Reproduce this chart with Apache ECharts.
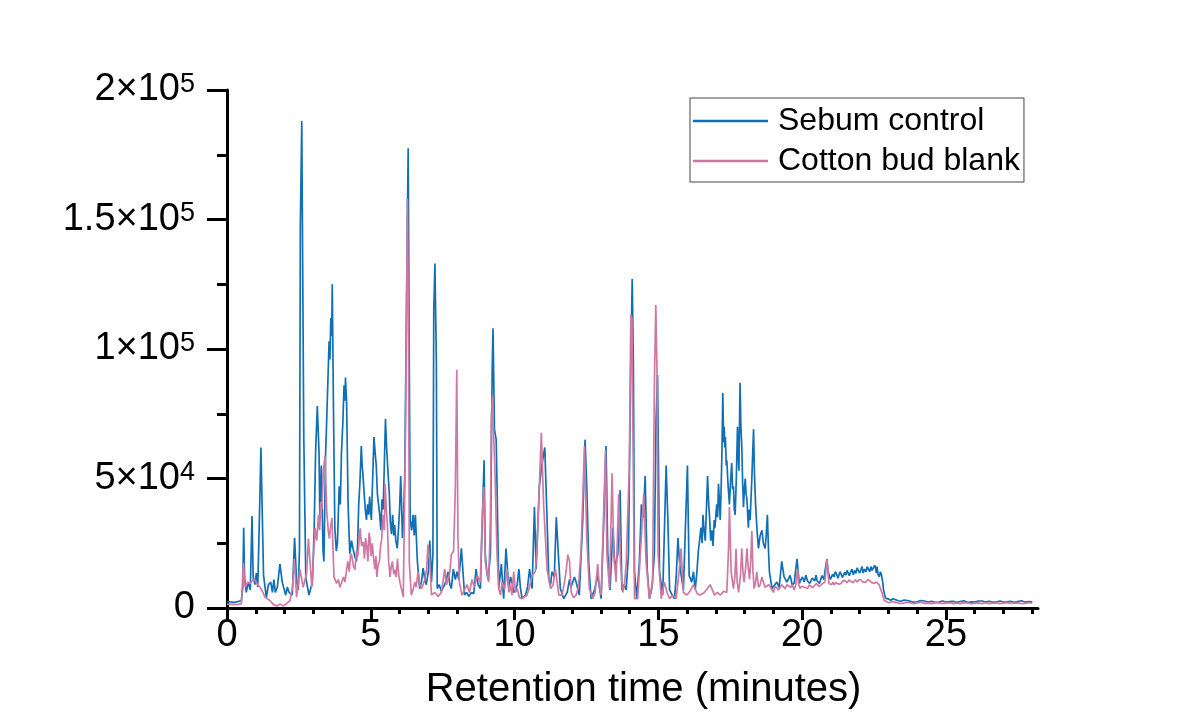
<!DOCTYPE html>
<html>
<head>
    <meta charset="utf-8">
    <title>Chromatogram</title>
    <script src="https://cdn.jsdelivr.net/npm/echarts@6/dist/echarts.min.js"></script>
    <style>
        body { margin: 0; background: #fff; }
    </style>
</head>
<body>
    <div id="main" style="width: 1198px;height:720px;"></div>
    <script type="text/javascript">
        // retention time (min), intensity (x1000 counts)
        var sebumControl = [
            [0,2.5],[0.25,2.2],[0.5,2.8],[0.55,8],[0.58,31],[0.61,12],[0.67,6],[0.74,10],[0.81,7],[0.87,35.5],
            [0.91,12],[0.97,9],[1.02,13.5],[1.07,8],[1.14,41],[1.18,62],[1.22,40],[1.27,12.7],[1.37,4],[1.44,9],
            [1.52,10],[1.58,6],[1.63,11],[1.68,6],[1.75,8],[1.84,17],[1.92,10],[2.04,5],[2.1,8],[2.16,6],
            [2.27,5],[2.35,27],[2.42,10],[2.48,7],[2.52,23],[2.55,147],[2.60,188],[2.63,134],[2.67,66],[2.74,11.6],
            [2.85,5],[2.97,10],[3.03,30],[3.08,60],[3.14,78],[3.2,60],[3.23,34],[3.28,55],[3.34,22],[3.37,18],[3.43,60],
            [3.46,70],[3.49,81],[3.52,92],[3.55,103],[3.58,96],[3.61,112],[3.64,105],[3.66,125],[3.70,79],[3.75,31],[3.8,22],
            [3.84,25],[3.9,47],[3.94,40],[3.98,60],[4.03,72],[4.07,86],[4.1,80],[4.12,89],[4.16,79],[4.21,40],[4.27,21],
            [4.33,26],[4.38,23],[4.44,20],[4.5,18],[4.54,24],[4.58,40],[4.62,48],[4.67,62.5],[4.7,55],[4.73,51],[4.77,44],
            [4.81,38],[4.85,34],[4.89,40],[4.93,36],[4.96,43],[4.99,38],[5.02,34],[5.06,48],[5.11,66],[5.15,60],[5.19,55],
            [5.23,44],[5.27,40],[5.31,36],[5.35,30],[5.39,42],[5.43,38],[5.47,55],[5.51,73],[5.55,62],[5.6,52],[5.64,45],
            [5.68,33],[5.72,28.5],[5.76,36],[5.8,28],[5.83,32],[5.87,26],[5.92,23],[5.96,30],[6.0,38],[6.04,51],[6.07,40],
            [6.1,27],[6.14,35],[6.18,51],[6.24,115],[6.30,177.5],[6.33,112],[6.37,34],[6.42,30],[6.47,36],[6.51,28],[6.55,36],
            [6.62,18],[6.7,7.5],[6.76,10],[6.82,15.4],[6.88,11],[6.93,9],[7.0,14],[7.05,26],[7.11,10],[7.16,21],[7.19,115],[7.23,133],[7.28,95],
            [7.31,7.5],[7.38,9],[7.45,6.5],[7.52,8],[7.57,9],[7.63,11],[7.69,14],[7.75,9],[7.8,7.5],[7.87,15],[7.94,11],[8.0,14],[8.06,11],[8.15,23],[8.26,5],
            [8.33,6],[8.41,4.5],[8.5,6],[8.58,5.5],[8.66,15],[8.73,9],[8.81,7.5],[8.9,42],[8.94,57],[8.98,21],[9.03,14],[9.08,11],[9.16,21],[9.22,91],
            [9.25,108],[9.3,69],[9.36,65],[9.39,47],[9.45,7.5],[9.54,17],[9.62,3.6],[9.7,23],[9.8,7.5],[9.86,12],[9.91,10],
            [9.97,6],[10.03,7],[10.09,9],[10.15,15],[10.2,8],[10.26,3.6],[10.38,5],[10.45,8],[10.52,15],[10.61,7.5],[10.69,39],[10.75,15],[10.86,47],[10.96,56],
            [11.05,62],[11.13,34],[11.19,11],[11.25,9],[11.3,14],[11.38,12],[11.45,35],[11.51,23],[11.59,7.5],[11.71,3.6],[11.83,6],[11.91,11],
            [11.96,8],[12.02,7.5],[12.08,12],[12.14,10],[12.25,5],[12.37,34],[12.45,65],[12.51,47],[12.58,17],[12.66,3.6],[12.78,7],[12.89,12.6],
            [12.95,8],[13.01,3.6],[13.14,47],[13.18,62.5],[13.24,21],[13.32,7],[13.42,31],[13.49,15],[13.59,21],[13.67,45.5],[13.73,7],
            [13.8,9],[13.88,7],[13.96,21],[14.03,86],[14.09,127],[14.13,95],[14.17,14],[14.25,3.6],[14.34,18],[14.41,40],[14.48,35],
            [14.54,51],[14.61,15],[14.69,3.6],[14.78,8],[14.86,21],[14.92,73],[14.97,90],[15.0,60],[15.04,14],[15.15,5],[15.27,55],
            [15.33,34],[15.39,7],[15.48,5],[15.56,3.6],[15.62,12],[15.68,27],[15.72,20],[15.76,15],[15.87,7],[16.01,55],[16.07,12.6],[16.16,10],
            [16.22,14],[16.28,7],[16.34,14],[16.39,22],[16.44,27],[16.48,31],[16.52,25],[16.55,36],[16.59,30],[16.63,26],[16.67,38],[16.71,51],[16.75,40],
            [16.78,35],[16.82,26],[16.86,30],[16.9,24],[16.94,34],[16.97,31],[17.0,36],[17.03,40],[17.06,35],[17.09,48],[17.12,42],[17.15,34],[17.18,45],
            [17.21,60],[17.24,83],[17.27,64],[17.29,70],[17.31,62],[17.33,66],[17.36,55],[17.38,57],[17.42,48],[17.47,40],[17.51,49],[17.55,56],[17.58,46],[17.61,47],
            [17.64,38],[17.67,36],[17.71,50],[17.75,70],[17.78,58],[17.8,53],[17.82,70],[17.84,87],[17.87,70],[17.9,62.5],[17.93,48],[17.96,39],[17.99,46],
            [18.02,50],[18.05,44],[18.08,42],[18.11,35],[18.13,31],[18.16,38],[18.19,34],[18.22,42],[18.25,50],[18.28,60],[18.31,69],[18.34,52],[18.38,40],
            [18.43,30],[18.48,23],[18.54,28],[18.6,30],[18.65,25],[18.71,23],[18.75,28],[18.79,36],[18.83,22],[18.86,14],[18.95,7.5],[19.05,9],
            [19.12,10],[19.2,8],[19.29,18],[19.37,12],[19.47,10],[19.58,12.6],[19.65,9],[19.72,9.5],[19.82,19],[19.9,9.5],
            [19.96,11],[20.01,12],[20.07,10],[20.13,12.7],[20.18,10.5],[20.22,11],[20.26,9.5],[20.3,10],[20.35,11.5],[20.4,12],[20.44,10.5],[20.48,12.7],
            [20.52,10.5],[20.56,11],[20.6,9.5],[20.65,10],[20.69,12.5],[20.72,12],[20.76,11],[20.79,14],[20.86,19],[20.9,14],[20.94,12.7],[20.98,11],
            [21.02,11],[21.06,13],[21.11,12],[21.15,14],[21.2,13],[21.24,11.5],[21.28,12],[21.32,14],[21.35,13.4],[21.4,11.8],[21.44,12],[21.48,13.8],
            [21.52,12.7],[21.56,14.5],[21.6,14],[21.64,12.5],[21.69,14],[21.73,15],[21.78,12.8],[21.82,14.5],[21.87,13.4],[21.91,15.5],[21.95,15],[22.0,13.5],
            [22.04,14.7],[22.08,16],[22.12,13.5],[22.17,15],[22.22,14],[22.26,16],[22.3,15.5],[22.35,14],[22.39,16],[22.43,14.5],[22.48,14.5],[22.52,16.5],
            [22.55,15.5],[22.58,13.5],[22.6,16],[22.64,13],[22.68,12],[22.72,14],[22.76,12.7],[22.8,10],[22.83,7],[22.87,5],[22.91,3.7],[23.0,3.5],[23.08,3],[23.16,3.6],
            [23.25,3.2],[23.34,2.8],[23.43,2.6],[23.55,3.1],[23.7,2.8],[23.85,2.3],[24,2.4],[24.12,2.9],[24.25,2.7],[24.38,2.3],[24.5,2.6],[24.62,2.2],[24.75,2.3],
            [24.88,2.7],[25,2.3],[25.12,2.5],[25.25,2.6],[25.38,2.2],[25.5,2.5],[25.62,2.8],[25.75,2.2],[25.88,2.4],[26,2.3],[26.12,2.7],[26.25,2.7],[26.38,2.3],
            [26.5,2.6],[26.62,2.3],[26.75,2.3],[26.88,2.7],[27,2.3],[27.12,2.4],[27.25,2.6],[27.38,2.2],[27.5,2.5],[27.62,2.8],[27.75,2.3],[27.88,2.5],[28,2.4]
        ];
        var cottonBudBlank = [
            [0,1.5],[0.3,1.3],[0.5,1.6],[0.57,17.4],[0.63,8],[0.72,10],[0.8,9.5],[0.9,11],[0.97,10.8],[1.07,9],
            [1.15,8],[1.25,6],[1.32,4.2],[1.5,2.8],[1.6,1.5],[1.73,0.8],[1.85,1.5],[1.96,0.8],[2.08,1.8],[2.19,2.8],
            [2.28,8],[2.34,19],[2.42,4.2],[2.54,14.8],[2.65,8],[2.77,13.5],[2.83,26.8],[2.95,8],[3.06,30.8],[3.12,26],[3.18,36],
            [3.22,30],[3.26,41],[3.3,38],[3.35,53],[3.41,58.7],[3.47,37],[3.52,30],[3.56,26.8],[3.6,31],[3.65,34.7],[3.72,12],[3.81,9.5],
            [3.87,11],[3.93,8],[3.99,10],[4.05,12],[4.1,10],[4.16,14.8],[4.2,18],[4.25,14],[4.3,21],[4.34,20],[4.4,16],[4.45,14.8],
            [4.5,22],[4.55,20],[4.6,27],[4.63,30.8],[4.68,24],[4.74,25.5],[4.78,19],[4.82,27],[4.86,24],[4.9,18],[4.94,29],[4.97,26.8],
            [5.01,20],[5.05,25],[5.09,20],[5.14,15],[5.18,20],[5.21,12],[5.26,17],[5.3,18],[5.34,24],[5.38,26.8],[5.43,36],[5.47,30],
            [5.5,48],[5.54,38],[5.58,32],[5.62,18],[5.67,12],[5.71,16],[5.75,18],[5.8,13],[5.84,14.8],[5.88,12],[5.93,19],[5.97,13],[6.02,9.5],
            [6.13,4.2],[6.21,70],[6.25,124],[6.27,158],[6.31,110],[6.34,17.4],[6.41,4.9],[6.47,7],[6.53,10],[6.58,8],[6.64,14],[6.7,9],[6.76,7.5],
            [6.82,9],[6.88,11],[6.94,15],[6.99,24.5],[7.05,18],[7.11,5],[7.22,6],[7.34,4.5],[7.45,6],[7.51,10],[7.57,15],[7.63,9],[7.69,11],[7.75,14],[7.8,20.6],
            [7.88,22],[7.94,46.7],[7.99,92],[8.03,27],[8.08,10],[8.17,5],[8.26,7],[8.35,9],[8.43,6],[8.52,11],[8.6,8],[8.7,12.6],[8.81,10],
            [8.87,33.7],[8.93,46.7],[8.98,18],[9.1,10],[9.16,33.7],[9.19,73],[9.23,82],[9.26,70],[9.31,55.5],[9.39,20.6],
            [9.45,7.5],[9.51,5],[9.57,10],[9.65,7],[9.74,15],[9.8,6],[9.85,9],[9.91,5],[9.97,14],[10.03,6],[10.09,7.5],[10.17,4],[10.26,3.6],[10.43,5],[10.52,8],[10.61,12.6],[10.72,14],
            [10.78,23],[10.86,46.7],[10.93,67.7],[11.01,40],[11.13,15],[11.25,7.5],[11.34,9],[11.42,15],[11.54,5],[11.65,5],[11.72,9],[11.79,14],
            [11.85,20.6],[11.91,18],[11.97,6],[12.05,4],[12.14,5],[12.22,8],[12.31,22],[12.43,62.5],[12.51,27],[12.6,7.5],[12.72,3.6],[12.8,6],[12.89,17],
            [12.95,8],[13.01,5],[13.09,33.7],[13.16,61],[13.21,20.6],[13.3,7.5],[13.39,52],[13.45,20.6],[13.53,10],[13.62,44],[13.68,18],
            [13.76,6],[13.82,9],[13.88,17],[13.99,54.6],[14.04,113],[14.08,112],[14.11,73],[14.17,3.6],[14.28,3.6],[14.4,25.8],[14.49,44],
            [14.57,18],[14.69,3.6],[14.8,10],[14.86,86],[14.91,117],[14.95,93],[14.99,20.6],[15.1,3.6],[15.21,10],[15.3,6],[15.39,3.6],
            [15.5,5],[15.62,3.6],[15.73,15],[15.79,23],[15.81,18],[15.87,6],[15.99,5],[16.1,6.5],[16.22,9],[16.35,5.5],[16.45,5],
            [16.6,6],[16.8,9],[16.95,5],[17.05,6],[17.15,5],[17.28,6.5],[17.38,6],[17.44,23],[17.47,39],[17.53,14],[17.61,7.5],
            [17.66,12],[17.7,23],[17.74,10],[17.79,6],[17.85,12],[17.9,23],[17.94,14],[17.98,10],[18.03,15],[18.08,23],[18.12,16],[18.17,11],[18.21,18],[18.25,29.7],
            [18.29,14],[18.33,7.5],[18.38,10],[18.42,14],[18.48,8],[18.54,9],[18.6,12],[18.65,10],[18.71,8],[18.77,7.5],[18.84,9],[18.9,8],[19.0,6],[19.06,8.5],[19.12,8],[19.18,7],[19.23,7.5],
            [19.29,9],[19.35,8.5],[19.41,7.5],[19.47,9],[19.53,8.5],[19.6,8],[19.66,9],[19.72,7],[19.78,9],[19.84,15],[19.88,9],[19.93,7.6],[19.99,8.4],[20.05,8.5],[20.12,7.8],[20.19,7.6],
            [20.25,8.9],[20.3,8.8],[20.36,7.9],[20.42,8.2],[20.49,9.4],[20.55,9.2],[20.6,8.3],[20.65,8.9],[20.72,9.6],[20.79,10],[20.86,18.8],
            [20.93,9.5],[20.98,10.2],[21.02,9],[21.07,10],[21.11,8.9],[21.16,9.8],[21.22,10],[21.28,9.2],[21.35,9.5],[21.42,10.6],[21.5,10.5],[21.56,9.7],[21.63,10.8],
            [21.7,10.2],[21.78,9.8],[21.85,10.9],[21.92,10],[21.98,11],[22.05,10.8],[22.12,10],[22.22,10],[22.28,11],[22.35,10.5],[22.42,9.8],[22.5,9.5],[22.58,10],
            [22.68,8.9],[22.76,6.3],[22.85,3],[22.94,2.4],[23.03,2],[23.14,2.5],[23.25,2.2],[23.37,1.8],[23.5,1.8],[23.62,2.2],[23.75,2.1],[23.88,1.7],
            [24,2],[24.12,2.2],[24.25,1.8],[24.38,1.9],[24.5,1.7],[24.62,2.1],[24.75,2],[24.88,1.7],[25,1.9],[25.12,2.1],[25.25,1.7],[25.38,1.9],
            [25.5,1.7],[25.62,2.1],[25.75,2],[25.88,1.7],[26,1.9],[26.12,2],[26.25,1.7],[26.38,2.1],[26.5,1.7],[26.62,1.9],[26.75,2],[26.88,1.7],
            [27,1.9],[27.12,2.1],[27.25,1.8],[27.38,1.9],[27.5,2],[27.62,1.7],[27.75,1.8],[27.88,2.1],[28,1.9]
        ];

        var seriesNames = ['Sebum control', 'Cotton bud blank'];
        var seriesColors = ['#1170b5', '#cf79a2'];

        var xMajorTicks = [0, 5, 10, 15, 20, 25];
        var xMinorTicks = [];
        for (var m = 1; m <= 28; m++) { if (m % 5 !== 0) xMinorTicks.push(m); }

        var yTickValues = [0, 50000, 100000, 150000, 200000];
        var yTickLabels = ['0', '5×10^4', '1×10^5', '1.5×10^5', '2×10^5'];

        function toCounts(arr) {
            return arr.map(function (p) { return [p[0], p[1] * 1000]; });
        }

        var font = 'Liberation Sans, Arial, sans-serif';
        var myChart = echarts.init(document.getElementById('main'));

        var option = {
            backgroundColor: '#ffffff',
            animation: false,
            textStyle: { fontFamily: font, color: '#000' },
            grid: { left: 227, right: 160, top: 90, bottom: 112, outerBoundsMode: 'none' },
            legend: {
                orient: 'vertical',
                left: 690,
                top: 98,
                data: seriesNames,
                icon: 'rect',
                itemWidth: 75,
                itemHeight: 2.5,
                itemGap: 0,
                padding: [3, 4, 1, 3],
                borderColor: '#444',
                borderWidth: 1,
                textStyle: { fontSize: 32, color: '#000', lineHeight: 40, padding: [0, 0, 0, 5] }
            },
            xAxis: [{
                type: 'value',
                min: 0,
                max: 28.2,
                interval: 5,
                position: 'bottom',
                name: 'Retention time (minutes)',
                nameLocation: 'middle',
                nameGap: 62,
                nameTextStyle: { fontSize: 40, color: '#000', padding: [0, 0, 0, 22] },
                axisLine: { onZero: false, lineStyle: { color: '#000', width: 3 } },
                axisTick: { show: true, length: 12, customValues: xMajorTicks, lineStyle: { color: '#000', width: 3 } },
                axisLabel: { fontSize: 38, color: '#000', margin: 9, customValues: xMajorTicks },
                splitLine: { show: false }
            }, {
                type: 'value',
                min: 0,
                max: 28.2,
                interval: 1,
                position: 'bottom',
                axisLine: { show: false, onZero: false },
                axisTick: { show: true, length: 6, customValues: xMinorTicks, lineStyle: { color: '#000', width: 3 } },
                axisLabel: { show: false },
                splitLine: { show: false }
            }],
            yAxis: {
                type: 'value',
                min: 0,
                max: 200000,
                interval: 50000,
                axisLine: { show: true, lineStyle: { color: '#000', width: 3 } },
                axisTick: { show: true, length: 20, lineStyle: { color: '#000', width: 3 } },
                minorTick: { show: true, splitNumber: 2, length: 10, lineStyle: { color: '#000', width: 3 } },
                splitLine: { show: false },
                axisLabel: {
                    fontSize: 38,
                    color: '#000',
                    margin: 32,
                    formatter: function (v) {
                        var s = yTickLabels[yTickValues.indexOf(v)];
                        if (s === undefined) return '';
                        var parts = s.split('^');
                        return parts.length > 1 ? '{b|' + parts[0] + '}{sup|' + parts[1] + '}' : '{b|' + s + '}';
                    },
                    rich: {
                        b: { fontSize: 38, fontFamily: font, color: '#000', verticalAlign: 'bottom' },
                        sup: { fontSize: 27, fontFamily: font, color: '#000', verticalAlign: 'top' }
                    }
                }
            },
            series: [{
                name: seriesNames[0],
                type: 'line',
                xAxisIndex: 0,
                data: toCounts(sebumControl),
                showSymbol: false,
                color: seriesColors[0],
                lineStyle: { width: 1.7, color: seriesColors[0] }
            }, {
                name: seriesNames[1],
                type: 'line',
                xAxisIndex: 0,
                data: toCounts(cottonBudBlank),
                showSymbol: false,
                color: seriesColors[1],
                lineStyle: { width: 1.7, color: seriesColors[1] }
            }]
        };

        myChart.setOption(option);
    </script>
</body>
</html>
